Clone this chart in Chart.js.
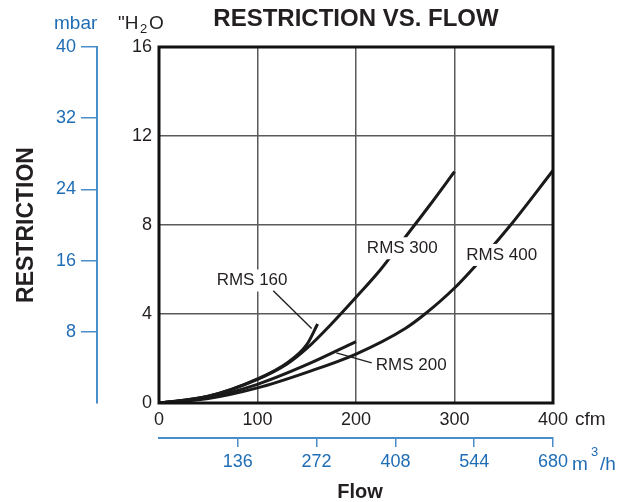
<!DOCTYPE html>
<html>
<head>
<meta charset="utf-8">
<script src="https://cdn.jsdelivr.net/npm/chart.js@4.4.1/dist/chart.umd.min.js"></script>
<style>
  html, body { margin: 0; padding: 0; background: #fff; }
  #wrap { width: 628px; height: 502px; }
</style>
</head>
<body>
<div id="wrap"><canvas id="chart" width="628" height="502"></canvas></div>
<script>
'use strict';

// ── Data (flow in cfm, restriction in "H2O) ─────────────────────────────
const rms160Flow = [0, 50, 100, 130, 150, 161];
const rms160Restr = [0, 0.3, 1.08, 1.8, 2.62, 3.55];

const rms200Flow = [0, 50, 100, 150, 200];
const rms200Restr = [0, 0.25, 0.84, 1.72, 2.76];

const rms300Flow = [0, 50, 100, 130, 150, 175, 200, 225, 250, 275, 300];
const rms300Restr = [0, 0.3, 1.06, 1.75, 2.45, 3.55, 4.75, 6.0, 7.45, 8.9, 10.4];

const rms400Flow = [0, 50, 100, 150, 200, 250, 270, 300, 330, 357, 400];
const rms400Restr = [0, 0.2, 0.68, 1.38, 2.2, 3.35, 4.0, 5.17, 6.6, 8.0, 10.45];

const seriesNames = ['RMS 160', 'RMS 200', 'RMS 300', 'RMS 400'];

// axis ticks
const cfmTicks = [0, 100, 200, 300, 400];
const inH2OTicks = [0, 4, 8, 12, 16];
const mbarTicks = [0, 8, 16, 24, 32, 40];
const m3hTicks = [0, 136, 272, 408, 544, 680];

// curve labels: [text, cfm, "H2O] and leader lines [cfm1, h1, cfm2, h2]
const curveLabels = [
    ['RMS 160', 94.5, 5.55],
    ['RMS 200', 256, 1.75],
    ['RMS 300', 247, 7.0],
    ['RMS 400', 348, 6.7]
];
const leaders = [
    [116, 5.05, 155, 3.35],
    [216, 1.8, 180, 2.25]
];

// ── Styles ───────────────────────────────────────────────────────────────
const SANS = "'Liberation Sans', Arial, sans-serif";
const INK = '#231f20';
const BLUE_TXT = '#1f6db4';
const BLUE_LINE = '#4a8dcb';
const GRID = '#5a5a5a';

const pts = (xs, ys) => xs.map((v, i) => ({ x: v, y: ys[i] }));
const curves = [
    pts(rms160Flow, rms160Restr),
    pts(rms200Flow, rms200Restr),
    pts(rms300Flow, rms300Restr),
    pts(rms400Flow, rms400Restr)
];

const hideZero = c => (c.tick && c.tick.value === 0) ? 'rgba(0,0,0,0)' : BLUE_LINE;

// ── Decorations: labels, leaders, frame, free text ───────────────────────
const decor = {
    id: 'decor',
    afterDatasetsDraw(chart) {
        const { ctx, chartArea: a, scales: { x, y } } = chart;
        ctx.save();
        ctx.font = '17px ' + SANS;
        ctx.textAlign = 'center';
        ctx.textBaseline = 'middle';
        curveLabels.forEach(([t, fx, fy]) => {
            const px = x.getPixelForValue(fx), py = y.getPixelForValue(fy);
            const w = ctx.measureText(t).width;
            ctx.fillStyle = '#fff';
            ctx.fillRect(px - w / 2 - 3, py - 10, w + 6, 22);
            ctx.fillStyle = INK;
            ctx.fillText(t, px, py + 1);
        });
        ctx.strokeStyle = INK;
        ctx.lineWidth = 1.4;
        leaders.forEach(([x1, y1, x2, y2]) => {
            ctx.beginPath();
            ctx.moveTo(x.getPixelForValue(x1), y.getPixelForValue(y1));
            ctx.lineTo(x.getPixelForValue(x2), y.getPixelForValue(y2));
            ctx.stroke();
        });
        // plot frame
        ctx.strokeStyle = '#111';
        ctx.lineWidth = 3;
        ctx.strokeRect(a.left, a.top, a.right - a.left, a.bottom - a.top);
        ctx.restore();
    },
    afterDraw(chart) {
        const { ctx, chartArea: a } = chart;
        ctx.save();
        ctx.textBaseline = 'alphabetic';
        // title
        ctx.fillStyle = INK;
        ctx.font = 'bold 24px ' + SANS;
        ctx.textAlign = 'center';
        ctx.fillText('RESTRICTION VS. FLOW', (a.left + a.right) / 2, 26);
        // bottom axis title
        ctx.font = 'bold 20px ' + SANS;
        ctx.fillText('Flow', 360, 498);
        // left axis title
        ctx.save();
        ctx.translate(33, 225);
        ctx.rotate(-Math.PI / 2);
        ctx.font = 'bold 23px ' + SANS;
        ctx.fillText('RESTRICTION', 0, 0);
        ctx.restore();
        // units
        ctx.textAlign = 'left';
        ctx.font = '19px ' + SANS;
        ctx.fillText('"H', 118, 29);
        ctx.font = '13px ' + SANS;
        ctx.fillText('2', 140, 33);
        ctx.font = '19px ' + SANS;
        ctx.fillText('O', 149, 29);
        ctx.fillText('cfm', a.right + 22, 425);
        ctx.fillStyle = BLUE_TXT;
        ctx.fillText('mbar', 54, 29);
        ctx.fillText('m', a.right + 19, 470);
        ctx.font = '13px ' + SANS;
        ctx.fillText('3', a.right + 38, 456);
        ctx.font = '19px ' + SANS;
        ctx.fillText('/h', a.right + 47, 470);
        ctx.restore();
    }
};

new Chart(document.getElementById('chart').getContext('2d'), {
    type: 'line',
    data: {
        datasets: curves.map((d, i) => ({
            label: seriesNames[i],
            data: d,
            xAxisID: 'x',
            yAxisID: 'y',
            borderColor: '#1a1a1a',
            borderWidth: 3,
            pointRadius: 0,
            fill: false,
            cubicInterpolationMode: 'monotone'
        }))
    },
    options: {
        responsive: false,
        animation: false,
        layout: { padding: { left: 0, right: 75, top: 47, bottom: 0 } },
        plugins: { legend: { display: false }, tooltip: { enabled: false } },
        scales: {
            x: {
                type: 'linear', position: 'bottom', weight: 0,
                min: 0, max: 400,
                afterBuildTicks: s => { s.ticks = cfmTicks.map(v => ({ value: v })); },
                afterFit: s => { s.height = 35; },
                grid: { color: GRID, lineWidth: 1.5, drawTicks: false },
                border: { display: false },
                ticks: { color: INK, font: { size: 18, family: SANS }, padding: 6, maxRotation: 0 }
            },
            x2: {
                type: 'linear', position: 'bottom', weight: 1,
                min: 0, max: 680,
                afterBuildTicks: s => { s.ticks = m3hTicks.map(v => ({ value: v })); },
                afterFit: s => { s.height = 64; },
                grid: { drawOnChartArea: false, drawTicks: true, tickLength: 9, color: hideZero, lineWidth: 1.5 },
                border: { display: true, color: BLUE_LINE, width: 2 },
                ticks: { color: BLUE_TXT, font: { size: 18, family: SANS }, padding: 4, maxRotation: 0,
                         callback: v => v === 0 ? '' : v }
            },
            y: {
                type: 'linear', position: 'left', weight: 0,
                min: 0, max: 16,
                afterBuildTicks: s => { s.ticks = inH2OTicks.map(v => ({ value: v })); },
                afterFit: s => { s.width = 62; },
                grid: { color: GRID, lineWidth: 1.5, drawTicks: false },
                border: { display: false },
                ticks: { color: INK, font: { size: 18, family: SANS }, padding: 7 }
            },
            y2: {
                type: 'linear', position: 'left', weight: 1,
                min: 0, max: 40,
                afterBuildTicks: s => { s.ticks = mbarTicks.map(v => ({ value: v })); },
                afterFit: s => { s.width = 97; },
                grid: { drawOnChartArea: false, drawTicks: true, tickLength: 16, color: hideZero, lineWidth: 1.5 },
                border: { display: true, color: BLUE_LINE, width: 2 },
                ticks: { color: BLUE_TXT, font: { size: 18, family: SANS }, padding: 5,
                         callback: v => v === 0 ? '' : v }
            }
        }
    },
    plugins: [decor]
});
</script>
</body>
</html>
